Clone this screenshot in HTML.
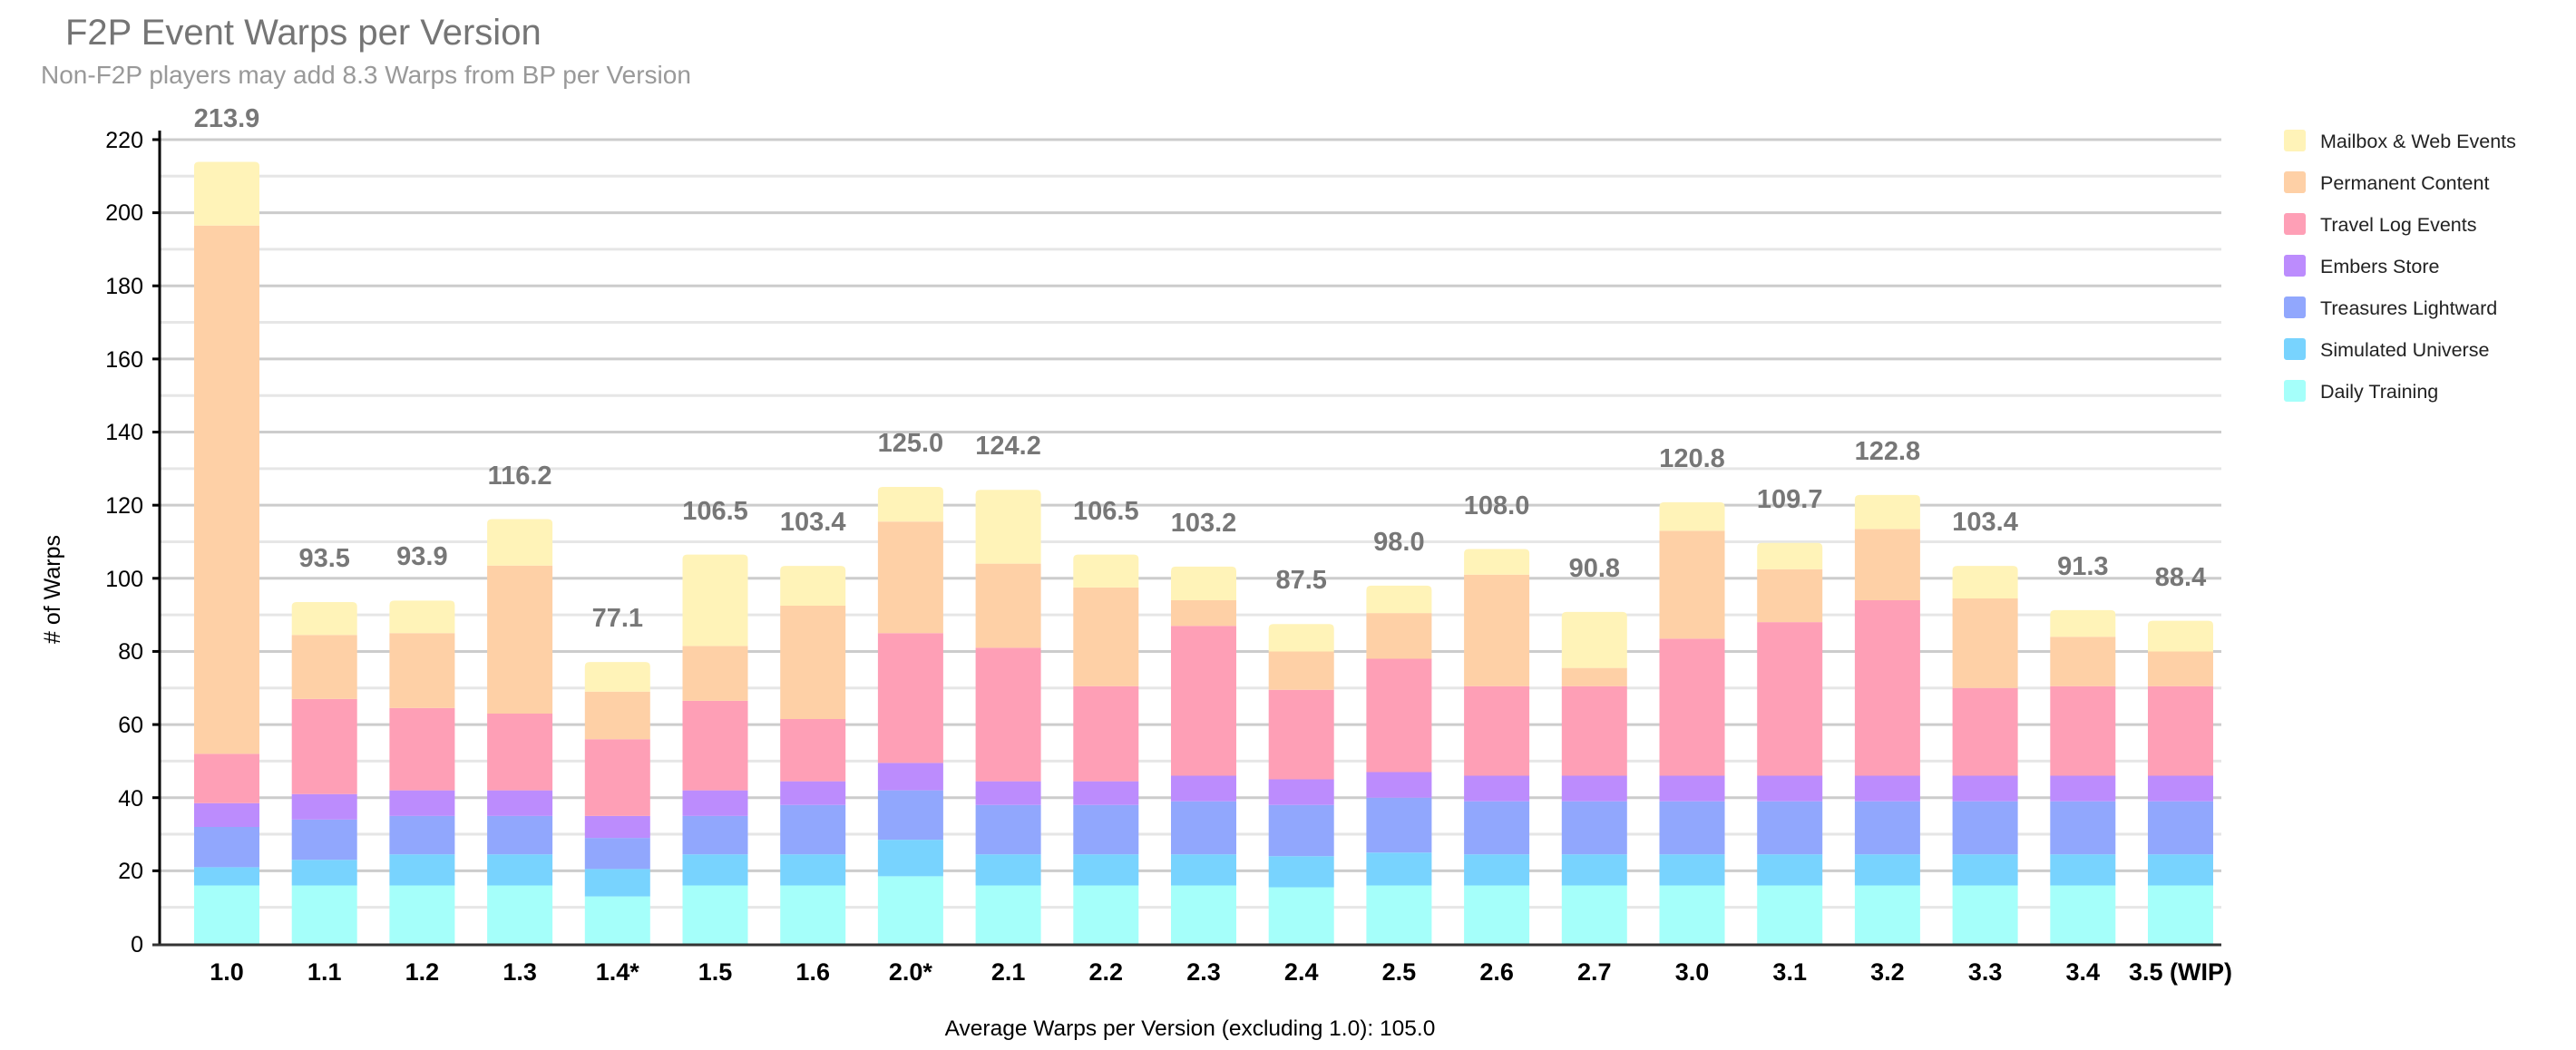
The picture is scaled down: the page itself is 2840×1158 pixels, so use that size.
<!DOCTYPE html>
<html><head><meta charset="utf-8"><style>
html,body{margin:0;padding:0;background:#fff;}
svg{display:block;font-family:"Liberation Sans",Arial,sans-serif;}
</style></head><body>
<svg id="s" width="2840" height="1158" viewBox="0 0 2840 1158" xmlns="http://www.w3.org/2000/svg">
<text x="72" y="49" font-size="40" fill="#757575">F2P Event Warps per Version</text>
<text x="45" y="92" font-size="28" fill="#999">Non-F2P players may add 8.3 Warps from BP per Version</text>
<g id="grid"></g>
<g id="bars"></g>
<line x1="176" y1="144" x2="176" y2="1042" stroke="#000" stroke-width="3"/>
<line x1="168" y1="1042" x2="2449" y2="1042" stroke="#333" stroke-width="3"/>
<g font-size="25" fill="#000" text-anchor="end">
<text x="158" y="1050">0</text><text x="158" y="969">20</text><text x="158" y="889">40</text><text x="158" y="808">60</text><text x="158" y="727">80</text><text x="158" y="647">100</text><text x="158" y="566">120</text><text x="158" y="485">140</text><text x="158" y="405">160</text><text x="158" y="324">180</text><text x="158" y="243">200</text><text x="158" y="163">220</text>
</g>
<text transform="translate(66,650) rotate(-90)" font-size="25" fill="#000" text-anchor="middle"># of Warps</text>
<g font-size="27" font-weight="bold" fill="#000" text-anchor="middle">
<text x="250" y="1081">1.0</text><text x="357.7" y="1081">1.1</text><text x="465.4" y="1081">1.2</text><text x="573.1" y="1081">1.3</text><text x="680.8" y="1081">1.4*</text><text x="788.5" y="1081">1.5</text><text x="896.2" y="1081">1.6</text><text x="1003.9" y="1081">2.0*</text><text x="1111.6" y="1081">2.1</text><text x="1219.3" y="1081">2.2</text><text x="1327" y="1081">2.3</text><text x="1434.7" y="1081">2.4</text><text x="1542.4" y="1081">2.5</text><text x="1650.1" y="1081">2.6</text><text x="1757.8" y="1081">2.7</text><text x="1865.5" y="1081">3.0</text><text x="1973.2" y="1081">3.1</text><text x="2080.9" y="1081">3.2</text><text x="2188.6" y="1081">3.3</text><text x="2296.3" y="1081">3.4</text><text x="2404" y="1081">3.5 (WIP)</text>
</g>
<g font-size="29" font-weight="bold" fill="#777" text-anchor="middle">
<text x="250" y="140">213.9</text><text x="357.7" y="625">93.5</text><text x="465.4" y="623">93.9</text><text x="573.1" y="534">116.2</text><text x="680.8" y="691">77.1</text><text x="788.5" y="573">106.5</text><text x="896.2" y="585">103.4</text><text x="1003.9" y="498">125.0</text><text x="1111.6" y="501">124.2</text><text x="1219.3" y="573">106.5</text><text x="1327" y="586">103.2</text><text x="1434.7" y="649">87.5</text><text x="1542.4" y="607">98.0</text><text x="1650.1" y="567">108.0</text><text x="1757.8" y="636">90.8</text><text x="1865.5" y="515">120.8</text><text x="1973.2" y="560">109.7</text><text x="2080.9" y="507">122.8</text><text x="2188.6" y="585">103.4</text><text x="2296.3" y="634">91.3</text><text x="2404" y="646">88.4</text>
</g>
<text x="1312" y="1142" font-size="24.5" fill="#000" text-anchor="middle">Average Warps per Version (excluding 1.0): 105.0</text>
<g font-size="21.5" fill="#222">
<rect x="2518" y="143" width="24" height="24" rx="3" fill="#fff3b8"/><text x="2558" y="163">Mailbox &amp; Web Events</text>
<rect x="2518" y="189" width="24" height="24" rx="3" fill="#fed0a6"/><text x="2558" y="209">Permanent Content</text>
<rect x="2518" y="235" width="24" height="24" rx="3" fill="#fe9fb6"/><text x="2558" y="255">Travel Log Events</text>
<rect x="2518" y="281" width="24" height="24" rx="3" fill="#bc8cfd"/><text x="2558" y="301">Embers Store</text>
<rect x="2518" y="327" width="24" height="24" rx="3" fill="#91a7fd"/><text x="2558" y="347">Treasures Lightward</text>
<rect x="2518" y="373" width="24" height="24" rx="3" fill="#78d3fe"/><text x="2558" y="393">Simulated Universe</text>
<rect x="2518" y="419" width="24" height="24" rx="3" fill="#a5fffa"/><text x="2558" y="439">Daily Training</text>
</g>
</svg>
<script>
(function(){
var NS="http://www.w3.org/2000/svg";
function Y(v){return 1041-v*4.032;}
var g=document.getElementById('grid');
for(var v=10;v<=220;v+=10){var l=document.createElementNS(NS,'line');l.setAttribute('x1',176);l.setAttribute('x2',2449);l.setAttribute('y1',Y(v));l.setAttribute('y2',Y(v));l.setAttribute('stroke',v%20?'#e6e6e6':'#cccccc');l.setAttribute('stroke-width',3);g.appendChild(l);
if(v%20==0){var t=document.createElementNS(NS,'line');t.setAttribute('x1',168);t.setAttribute('x2',176);t.setAttribute('y1',Y(v));t.setAttribute('y2',Y(v));t.setAttribute('stroke','#000');t.setAttribute('stroke-width',3);g.appendChild(t);}}
var cols=['#a5fffa','#78d3fe','#91a7fd','#bc8cfd','#fe9fb6','#fed0a6','#fff3b8'];
var d=[[16,21,32,38.5,52,196.5,213.9],[16,23,34,41,67,84.5,93.5],[16,24.5,35,42,64.5,85,93.9],[16,24.5,35,42,63,103.5,116.2],[13,20.5,29,35,56,69,77.1],[16,24.5,35,42,66.5,81.5,106.5],[16,24.5,38,44.5,61.5,92.5,103.4],[18.5,28.5,42,49.5,85,115.5,125],[16,24.5,38,44.5,81,104,124.2],[16,24.5,38,44.5,70.5,97.5,106.5],[16,24.5,39,46,87,94,103.2],[15.5,24,38,45,69.5,80,87.5],[16,25,40,47,78,90.5,98],[16,24.5,39,46,70.5,101,108],[16,24.5,39,46,70.5,75.5,90.8],[16,24.5,39,46,83.5,113,120.8],[16,24.5,39,46,88,102.5,109.7],[16,24.5,39,46,94,113.5,122.8],[16,24.5,39,46,70,94.5,103.4],[16,24.5,39,46,70.5,84,91.3],[16,24.5,39,46,70.5,80,88.4]];
var b=document.getElementById('bars');
for(var i=0;i<d.length;i++){var cx=250+107.7*i,prev=0;
for(var k=0;k<7;k++){var top=d[i][k];var p;
var x0=cx-36,x1=cx+36,y0=Y(prev),y1=Y(top);
if(k==6){var r=5;p='M'+x0+' '+y0+'L'+x0+' '+(y1+r)+'Q'+x0+' '+y1+' '+(x0+r)+' '+y1+'L'+(x1-r)+' '+y1+'Q'+x1+' '+y1+' '+x1+' '+(y1+r)+'L'+x1+' '+y0+'Z';}
else p='M'+x0+' '+y0+'L'+x0+' '+y1+'L'+x1+' '+y1+'L'+x1+' '+y0+'Z';
var e=document.createElementNS(NS,'path');e.setAttribute('d',p);e.setAttribute('fill',cols[k]);b.appendChild(e);prev=top;}}
})();
</script>
</body></html>
